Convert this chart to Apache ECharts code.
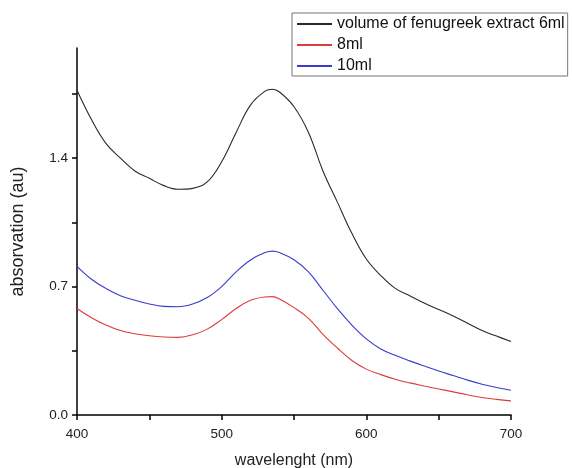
<!DOCTYPE html>
<html>
<head>
<meta charset="utf-8">
<script src="https://cdn.jsdelivr.net/npm/echarts@6/dist/echarts.min.js"></script>
<style>
  html, body { margin: 0; padding: 0; background: #fff; }
  #main { width: 572px; height: 468px; }
</style>
</head>
<body>
<div id="main"></div>
<script>
// wavelength (nm)
var wavelengths = [400, 410, 420, 430, 440, 450, 460, 470, 480, 490, 500, 510, 520, 530, 535, 540,
  550, 560, 570, 580, 590, 600, 610, 620, 630, 640, 650, 660, 670, 680, 690, 700];

// absorbance
var ml6 = [1.77, 1.61, 1.48, 1.40, 1.33, 1.29, 1.25, 1.23, 1.235, 1.27, 1.38, 1.54, 1.69, 1.765, 1.775, 1.76,
  1.68, 1.54, 1.33, 1.16, 0.99, 0.85, 0.76, 0.69, 0.65, 0.61, 0.575, 0.54, 0.50, 0.46, 0.43, 0.40];
var ml8 = [0.58, 0.53, 0.49, 0.46, 0.443, 0.432, 0.425, 0.423, 0.437, 0.468, 0.52, 0.58, 0.625, 0.643, 0.645, 0.632,
  0.585, 0.527, 0.44, 0.365, 0.297, 0.25, 0.22, 0.195, 0.175, 0.158, 0.142, 0.126, 0.11, 0.095, 0.085, 0.077];
var ml10 = [0.81, 0.74, 0.69, 0.65, 0.625, 0.605, 0.592, 0.59, 0.605, 0.64, 0.70, 0.78, 0.845, 0.885, 0.893, 0.885,
  0.846, 0.78, 0.68, 0.58, 0.49, 0.415, 0.36, 0.325, 0.295, 0.267, 0.24, 0.215, 0.19, 0.168, 0.15, 0.135];

var seriesNames = ['volume of fenugreek extract 6ml', '8ml', '10ml'];

var xTicks = [400, 450, 500, 550, 600, 650, 700];
var xLabels = [400, 500, 600, 700];
var yTicks = [0, 0.35, 0.7, 1.05, 1.4, 1.75];
var yLabels = [0, 0.7, 1.4];

function pairs(ys) {
  var out = [];
  for (var i = 0; i < wavelengths.length; i++) {
    out.push([wavelengths[i], ys[i]]);
  }
  return out;
}

var chart = echarts.init(document.getElementById('main'), null, { renderer: 'canvas' });

var axisCommon = {
  axisLine: { lineStyle: { color: '#000', width: 1.5 } },
  axisTick: { inside: false, length: 5, lineStyle: { color: '#000', width: 1.5 } },
  splitLine: { show: false },
  nameTextStyle: { color: '#222', fontSize: 16, fontFamily: 'Liberation Sans' }
};

var option = {
  backgroundColor: '#fff',
  animation: false,
  textStyle: { fontFamily: 'Liberation Sans' },
  legend: {
    orient: 'vertical',
    left: 292,
    top: 13,
    padding: [3, 3, 2, 4],
    itemWidth: 35,
    itemHeight: 14,
    itemGap: 5,
    borderColor: '#777',
    borderWidth: 1,
    itemStyle: { opacity: 0 },
    data: seriesNames,
    textStyle: { color: '#111', fontSize: 16, fontFamily: 'Liberation Sans' }
  },
  grid: {
    left: 77,
    right: 61,
    top: 48,
    bottom: 53,
    outerBoundsMode: 'none'
  },
  xAxis: Object.assign({}, axisCommon, {
    type: 'value',
    min: 400,
    max: 700,
    interval: 50,
    name: 'wavelenght (nm)',
    nameLocation: 'middle',
    nameGap: 38,
    axisTick: Object.assign({}, axisCommon.axisTick, { customValues: xTicks }),
    axisLabel: {
      customValues: xLabels,
      color: '#222',
      fontSize: 13.5,
      margin: 12,
      fontFamily: 'Liberation Sans'
    }
  }),
  yAxis: Object.assign({}, axisCommon, {
    type: 'value',
    min: 0,
    max: 2.0,
    name: 'absorvation (au)',
    nameLocation: 'middle',
    nameGap: 50,
    nameTextStyle: { color: '#222', fontSize: 18, fontFamily: 'Liberation Sans' },
    axisTick: Object.assign({}, axisCommon.axisTick, { customValues: yTicks }),
    axisLabel: {
      customValues: yLabels,
      color: '#222',
      fontSize: 13.5,
      margin: 9,
      fontFamily: 'Liberation Sans',
      formatter: function (v) { return v.toFixed(1); }
    }
  }),
  series: [
    {
      name: seriesNames[0],
      type: 'line',
      data: pairs(ml6),
      smooth: 0.4,
      symbol: 'none',
      color: '#2a2a2a',
      lineStyle: { width: 1.1, color: '#2a2a2a' }
    },
    {
      name: seriesNames[1],
      type: 'line',
      data: pairs(ml8),
      smooth: 0.4,
      symbol: 'none',
      color: '#dd3b3b',
      lineStyle: { width: 1.1, color: '#dd3b3b' }
    },
    {
      name: seriesNames[2],
      type: 'line',
      data: pairs(ml10),
      smooth: 0.4,
      symbol: 'none',
      color: '#3b3bcc',
      lineStyle: { width: 1.1, color: '#3b3bcc' }
    }
  ]
};

chart.setOption(option);
</script>
</body>
</html>
